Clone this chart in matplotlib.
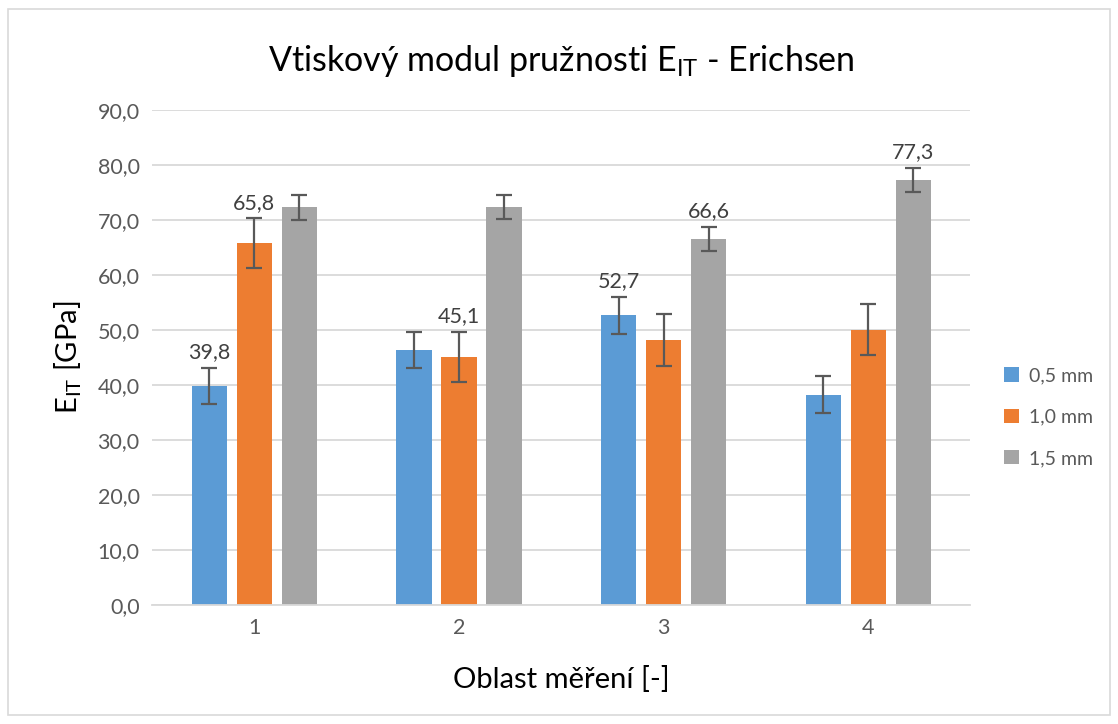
import numpy as np
import matplotlib
matplotlib.use('Agg')
import matplotlib.pyplot as plt
from matplotlib.patches import Rectangle

# Hodnoty modulu pruznosti pro jednotlive oblasti mereni
oblasti = ['1', '2', '3', '4']
serie = ['0,5 mm', '1,0 mm', '1,5 mm']
hodnoty_05 = [39.8, 46.4, 52.7, 38.3]
hodnoty_10 = [65.8, 45.1, 48.2, 50.1]
hodnoty_15 = [72.3, 72.4, 66.6, 77.3]
chyby_05 = [3.3, 3.3, 3.35, 3.3]
chyby_10 = [4.55, 4.6, 4.65, 4.6]
chyby_15 = [2.2, 2.15, 2.2, 2.2]
# ktere sloupce maji popisek (index oblasti pro kazdou serii)
popisky = [[0, 2], [0, 1], [2, 3]]

barvy = ['#5B9BD5', '#ED7D31', '#A5A5A5']
hodnoty = [hodnoty_05, hodnoty_10, hodnoty_15]
chyby = [chyby_05, chyby_10, chyby_15]

plt.rcParams['font.family'] = ['Lato', 'DejaVu Sans']
plt.rcParams['mathtext.fontset'] = 'custom'
plt.rcParams['mathtext.rm'] = 'Lato'
plt.rcParams['mathtext.it'] = 'Lato'

fig = plt.figure(figsize=(11.18, 7.24), dpi=100)
ax = fig.add_axes([0.136, 0.164, 0.732, 0.684])

x = np.arange(1, len(oblasti) + 1)
sirka = 0.172
posun = 0.22
for i in range(3):
    xs = x + (i - 1) * posun
    ax.bar(xs, hodnoty[i], width=sirka, color=barvy[i], label=serie[i], zorder=2)
    ax.errorbar(xs, hodnoty[i], yerr=chyby[i], fmt='none', ecolor='#595959',
                elinewidth=1.6, capsize=6, capthick=1.6, zorder=3)
    for j in popisky[i]:
        ax.annotate(f'{hodnoty[i][j]:.1f}'.replace('.', ','),
                    (xs[j], hodnoty[i][j] + chyby[i][j]),
                    xytext=(0, 4), textcoords='offset points',
                    ha='center', va='bottom', fontsize=15.5, color='#404040', zorder=4)

ax.set_xlim(0.5, 4.5)
ax.set_ylim(0, 90)
ax.set_yticks(np.arange(0, 91, 10))
ax.set_yticklabels([f'{v:.1f}'.replace('.', ',') for v in np.arange(0, 91, 10)])
ax.set_xticks(x)
ax.set_xticklabels(oblasti)
ax.tick_params(axis='both', length=0, labelsize=15.5, colors='#595959', pad=9)
ax.grid(axis='y', color='#D9D9D9', linewidth=1.3, zorder=0)
ax.set_axisbelow(True)
for s in ['top', 'right', 'left']:
    ax.spines[s].set_visible(False)
ax.spines['bottom'].set_color('#D9D9D9')
ax.spines['bottom'].set_linewidth(1.3)

ax.set_title(r'Vtiskový modul pružnosti E$_{\mathrm{IT}}$ - Erichsen', fontsize=24.5,
             color='#000000', pad=28)
ax.set_xlabel('Oblast měření [-]', fontsize=21, labelpad=20)
ax.set_ylabel(r'E$_{\mathrm{IT}}$ [GPa]', fontsize=21, labelpad=10)

ax.legend(loc='center left', bbox_to_anchor=(1.02, 0.38), frameon=False,
          fontsize=14, handlelength=0.75, handleheight=0.75, labelspacing=1.25,
          handletextpad=0.5, labelcolor='#595959')

fig.patches.append(Rectangle((0.007, 0.012), 0.986, 0.975, transform=fig.transFigure,
                             fill=False, edgecolor='#D9D9D9', linewidth=1.2))

fig.savefig('out.png', dpi=100)
